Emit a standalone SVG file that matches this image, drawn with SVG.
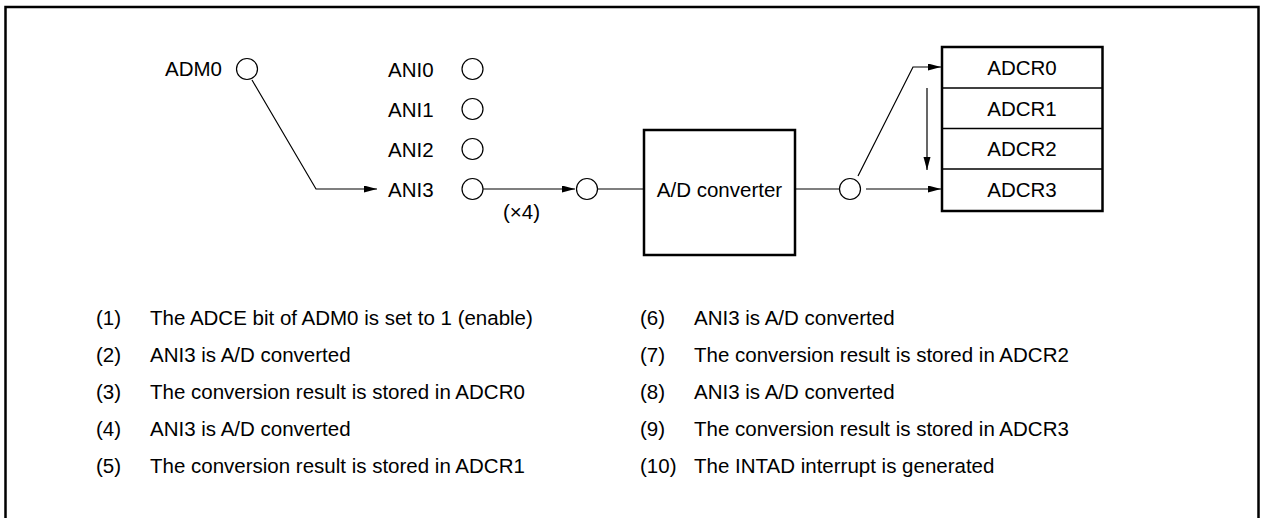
<svg xmlns="http://www.w3.org/2000/svg" width="1261" height="518" viewBox="0 0 1261 518">
<defs>
<style>
.t{font-family:"Liberation Sans",Arial,Helvetica,sans-serif;font-size:20.5px;fill:#000}
.m{text-anchor:middle}
.e{text-anchor:end}
.c{fill:#fff;stroke:#000;stroke-width:1.2}
.ln{fill:none;stroke:#000;stroke-width:1.2}
.bx{fill:#fff;stroke:#000;stroke-width:2.5}
.sep{stroke:#000;stroke-width:1.3}
</style>
<marker id="ah" markerUnits="userSpaceOnUse" markerWidth="14" markerHeight="8" refX="13" refY="3.5" orient="auto">
<path d="M0,0 L13,3.5 L0,7 z" fill="#000"/>
</marker>
</defs>
<rect width="1261" height="518" fill="#fff"/>
<rect id="frame" x="5.5" y="7" width="1253" height="540" fill="none" stroke="#000" stroke-width="2.5"/>

<g id="connectors">
<polyline class="ln" points="252,80 316,189 377,189" marker-end="url(#ah)"/>
<line class="ln" x1="483" y1="189" x2="575" y2="189" marker-end="url(#ah)"/>
<line class="ln" x1="597.5" y1="189" x2="644" y2="189"/>
<line class="ln" x1="795" y1="189" x2="839.5" y2="189"/>
<polyline class="ln" points="858,176 913,67 941,67" marker-end="url(#ah)"/>
<line class="ln" x1="866" y1="189" x2="941" y2="189" marker-end="url(#ah)"/>
<line class="ln" x1="927" y1="88" x2="927" y2="170" marker-end="url(#ah)"/>
</g>

<g id="adm0">
<text class="t e" x="222" y="76">ADM0</text>
<circle class="c" cx="247" cy="69" r="10.5"/>
</g>
<g id="ani0">
<text class="t" x="388" y="76.5">ANI0</text>
<circle class="c" cx="472.5" cy="69" r="10.5"/>
</g>
<g id="ani1">
<text class="t" x="388" y="116.5">ANI1</text>
<circle class="c" cx="472.5" cy="109" r="10.5"/>
</g>
<g id="ani2">
<text class="t" x="388" y="156.5">ANI2</text>
<circle class="c" cx="472.5" cy="149" r="10.5"/>
</g>
<g id="ani3">
<text class="t" x="388" y="196.5">ANI3</text>
<circle class="c" cx="472.5" cy="189" r="10.5"/>
</g>
<g id="x4">
<text class="t" x="503" y="219">(×4)</text>
</g>
<g id="in-node">
<circle class="c" cx="587" cy="189" r="10.5"/>
</g>
<g id="adc">
<rect class="bx" x="644" y="130" width="151" height="125"/>
<text class="t m" x="719.5" y="197">A/D converter</text>
</g>
<g id="out-node">
<circle class="c" cx="850" cy="189" r="10.5"/>
</g>
<g id="adcr">
<rect class="bx" x="942" y="47" width="160.5" height="164"/>
<line class="sep" x1="942" y1="88" x2="1102.5" y2="88"/>
<line class="sep" x1="942" y1="128.5" x2="1102.5" y2="128.5"/>
<line class="sep" x1="942" y1="169" x2="1102.5" y2="169"/>
<text class="t m" x="1022" y="75">ADCR0</text>
<text class="t m" x="1022" y="115.5">ADCR1</text>
<text class="t m" x="1022" y="156">ADCR2</text>
<text class="t m" x="1022" y="197">ADCR3</text>
</g>

<g id="legend">
<text class="t" x="96" y="325">(1)</text><text class="t" x="150" y="325">The ADCE bit of ADM0 is set to 1 (enable)</text>
<text class="t" x="96" y="362">(2)</text><text class="t" x="150" y="362">ANI3 is A/D converted</text>
<text class="t" x="96" y="399">(3)</text><text class="t" x="150" y="399">The conversion result is stored in ADCR0</text>
<text class="t" x="96" y="436">(4)</text><text class="t" x="150" y="436">ANI3 is A/D converted</text>
<text class="t" x="96" y="473">(5)</text><text class="t" x="150" y="473">The conversion result is stored in ADCR1</text>
<text class="t" x="640" y="325">(6)</text><text class="t" x="694" y="325">ANI3 is A/D converted</text>
<text class="t" x="640" y="362">(7)</text><text class="t" x="694" y="362">The conversion result is stored in ADCR2</text>
<text class="t" x="640" y="399">(8)</text><text class="t" x="694" y="399">ANI3 is A/D converted</text>
<text class="t" x="640" y="436">(9)</text><text class="t" x="694" y="436">The conversion result is stored in ADCR3</text>
<text class="t" x="640" y="473">(10)</text><text class="t" x="694" y="473">The INTAD interrupt is generated</text>
</g>
</svg>
